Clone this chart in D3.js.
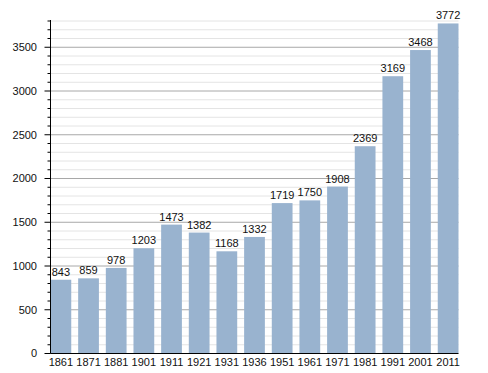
<!DOCTYPE html>
<html><head><meta charset="utf-8">
<script src="https://cdn.jsdelivr.net/npm/d3@7"></script>
<style>body{margin:0;background:#fff}svg{display:block}text{font-family:"Liberation Sans",Arial,sans-serif}</style>
</head><body><svg id="c" width="488" height="373"></svg>
<script>
const years = ["1861","1871","1881","1901","1911","1921","1931","1936","1951","1961","1971","1981","1991","2001","2011"];
const population = [843,859,978,1203,1473,1382,1168,1332,1719,1750,1908,2369,3169,3468,3772];
const majorTicks = [0,500,1000,1500,2000,2500,3000,3500];

(function () {
const svg = d3.select("#c");
const pl = 50.5, pr = 458.5, pt = 21, pb = 353.5;
const x = d3.scaleBand().domain(years).range([pl, pr]).paddingInner(0.25).paddingOuter(0);
const y = d3.scaleLinear().domain([0, 3800]).range([pb, pt]);
const minor = d3.range(0, 3801, 100).filter(v => v % 500 !== 0);

svg.append("g").selectAll("line").data(minor).join("line")
  .attr("x1", pl).attr("x2", pr).attr("y1", d => y(d)).attr("y2", d => y(d))
  .attr("stroke", "#e4e4e4").attr("stroke-width", 1);
svg.append("g").selectAll("line").data(majorTicks.filter(d => d > 0)).join("line")
  .attr("x1", pl).attr("x2", pr).attr("y1", d => y(d)).attr("y2", d => y(d))
  .attr("stroke", "#a8a8a8").attr("stroke-width", 1);

svg.append("g").selectAll("rect").data(population).join("rect")
  .attr("x", (d, i) => x(years[i])).attr("width", x.bandwidth())
  .attr("y", d => y(d)).attr("height", d => pb - y(d))
  .attr("fill", "#99b3cf");

svg.append("g").selectAll("text").data(population).join("text")
  .attr("x", (d, i) => x(years[i]) + x.bandwidth() / 2).attr("y", d => y(d) - 4)
  .attr("text-anchor", "middle").attr("font-size", 11).attr("fill", "#111").text(d => d);

const ya = svg.append("g");
ya.append("line").attr("x1", pl).attr("x2", pl).attr("y1", pt - 1).attr("y2", pb).attr("stroke", "#000");
ya.selectAll(".mn").data(minor).join("line").attr("class", "mn")
  .attr("x1", pl - 3).attr("x2", pl).attr("y1", d => y(d)).attr("y2", d => y(d)).attr("stroke", "#000");
ya.selectAll(".mj").data(majorTicks).join("line").attr("class", "mj")
  .attr("x1", pl - 6).attr("x2", pl).attr("y1", d => y(d)).attr("y2", d => y(d)).attr("stroke", "#000");
ya.selectAll("text").data(majorTicks).join("text")
  .attr("x", 37).attr("y", d => y(d)).attr("dy", "0.35em").attr("text-anchor", "end")
  .attr("font-size", 11).attr("fill", "#111").text(d => d);

svg.append("line").attr("x1", pl).attr("x2", pr).attr("y1", pb).attr("y2", pb).attr("stroke", "#000");
svg.append("g").selectAll("text").data(years).join("text")
  .attr("x", d => x(d) + x.bandwidth() / 2).attr("y", 362).attr("dy", "0.35em")
  .attr("text-anchor", "middle").attr("font-size", 11).attr("fill", "#111").text(d => d);
})();
</script></body></html>
